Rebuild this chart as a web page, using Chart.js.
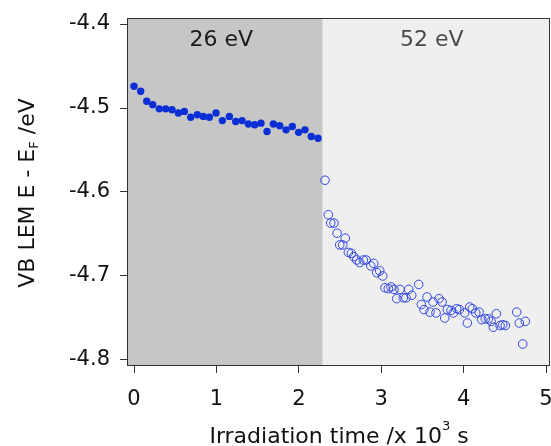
<!DOCTYPE html>
<html>
<head>
<meta charset="utf-8">
<script src="https://cdn.jsdelivr.net/npm/chart.js@4"></script>
<style>
  html, body { margin: 0; padding: 0; background: #fff; }
  #wrap { width: 551px; height: 446px; }
</style>
</head>
<body>
<div id="wrap"><canvas id="vb-chart"></canvas></div>
<script>
// 26 eV irradiation (filled points)
const time26 = [0, 0.081, 0.154, 0.227, 0.307, 0.385, 0.461, 0.538, 0.611, 0.688,
  0.768, 0.841, 0.914, 0.995, 1.072, 1.157, 1.234, 1.311, 1.388, 1.465,
  1.541, 1.614, 1.691, 1.768, 1.845, 1.921, 1.998, 2.075, 2.151, 2.233];
const energy26 = [-4.474, -4.480, -4.492, -4.496, -4.501, -4.501, -4.502, -4.506, -4.504, -4.511,
  -4.508, -4.510, -4.511, -4.506, -4.515, -4.510, -4.516, -4.515, -4.519, -4.520,
  -4.518, -4.528, -4.519, -4.521, -4.526, -4.522, -4.529, -4.526, -4.534, -4.536];

// 52 eV irradiation (open points)
const time52 = [2.318, 2.358, 2.387, 2.427, 2.464, 2.496, 2.533, 2.564, 2.601, 2.637,
  2.666, 2.703, 2.739, 2.783, 2.816, 2.873, 2.909, 2.945, 2.982, 3.018,
  3.046, 3.086, 3.119, 3.155, 3.188, 3.228, 3.268, 3.301, 3.334, 3.370,
  3.455, 3.487, 3.519, 3.556, 3.592, 3.629, 3.665, 3.701, 3.738, 3.771,
  3.802, 3.847, 3.875, 3.916, 3.948, 4.013, 4.045, 4.074, 4.106, 4.147,
  4.187, 4.220, 4.263, 4.300, 4.333, 4.360, 4.397, 4.442, 4.475, 4.506,
  4.644, 4.676, 4.717, 4.749];
const energy52 = [-4.586, -4.627, -4.637, -4.637, -4.649, -4.663, -4.663, -4.655, -4.672, -4.673,
  -4.677, -4.681, -4.684, -4.681, -4.681, -4.688, -4.685, -4.696, -4.694, -4.700,
  -4.714, -4.715, -4.713, -4.716, -4.727, -4.716, -4.726, -4.726, -4.716, -4.723,
  -4.710, -4.734, -4.740, -4.725, -4.743, -4.731, -4.744, -4.727, -4.731, -4.750,
  -4.740, -4.741, -4.744, -4.739, -4.740, -4.744, -4.756, -4.737, -4.739, -4.744,
  -4.743, -4.752, -4.751, -4.751, -4.754, -4.761, -4.745, -4.759, -4.758, -4.759,
  -4.743, -4.756, -4.781, -4.754];

const xTicks = [0, 1, 2, 3, 4, 5];
const yTicks = [-4.8, -4.7, -4.6, -4.5, -4.4];
const regionEdges = [-0.073, 2.29, 5.036];
const regionLabels = ["26 eV", "52 eV"];

const FONT = "'DejaVu Sans', sans-serif";

function toPoints(xs, ys) {
  return xs.map((x, i) => ({ x: x, y: ys[i] }));
}

// draw text made of runs, some of them sub/superscript, centred on cx
function drawRuns(ctx, runs, cx, baseline, size) {
  const small = Math.round(size * 0.6);
  let total = 0;
  runs.forEach((r) => {
    ctx.font = (r.sub || r.sup ? small : size) + "px " + FONT;
    r.w = ctx.measureText(r.t).width;
    total += r.w;
  });
  let x = cx - total / 2;
  runs.forEach((r) => {
    ctx.font = (r.sub || r.sup ? small : size) + "px " + FONT;
    let y = baseline;
    if (r.sub) y += 4;
    if (r.sup) y -= 13;
    ctx.fillText(r.t, x, y);
    x += r.w;
  });
}

const decorPlugin = {
  id: "decor",
  beforeDraw(chart) {
    const { ctx, chartArea: a, scales } = chart;
    const fills = ["#c6c6c6", "#efefef"];
    ctx.save();
    for (let i = 0; i < regionLabels.length; i++) {
      const x0 = Math.max(a.left, scales.x.getPixelForValue(regionEdges[i]));
      const x1 = Math.min(a.right, scales.x.getPixelForValue(regionEdges[i + 1]));
      ctx.fillStyle = fills[i];
      ctx.fillRect(x0, a.top, x1 - x0, a.bottom - a.top);
    }
    ctx.font = "22px " + FONT;
    ctx.textAlign = "center";
    ctx.textBaseline = "middle";
    const colors = ["#1a1a1a", "#4a4a4a"];
    for (let i = 0; i < regionLabels.length; i++) {
      const mid = (regionEdges[i] + regionEdges[i + 1]) / 2;
      ctx.fillStyle = colors[i];
      ctx.fillText(regionLabels[i], scales.x.getPixelForValue(mid) - 4, a.top + 21);
    }
    ctx.restore();
  },
  afterDraw(chart) {
    const { ctx, chartArea: a } = chart;
    ctx.save();
    ctx.strokeStyle = "#333";
    ctx.lineWidth = 1;
    ctx.strokeRect(a.left - 0.5, a.top - 0.5, a.right - a.left + 1, a.bottom - a.top + 1);

    ctx.fillStyle = "#111";
    ctx.textAlign = "left";
    ctx.textBaseline = "alphabetic";
    drawRuns(ctx, [
      { t: "Irradiation time /x 10" }, { t: "3", sup: true }, { t: " s" },
    ], 339, 443, 22);

    ctx.translate(34, (a.top + a.bottom) / 2 + 1);
    ctx.rotate(-Math.PI / 2);
    drawRuns(ctx, [
      { t: "VB LEM E - E" }, { t: "F", sub: true }, { t: " /eV" },
    ], 0, 0, 22);
    ctx.restore();
  },
};

function noPad(s) {
  s.paddingLeft = 0;
  s.paddingRight = 0;
  s.paddingTop = 0;
  s.paddingBottom = 0;
}

const ctx = document.getElementById("vb-chart").getContext("2d");
const chart = new Chart(ctx, {
  type: "scatter",
  data: {
    datasets: [
      {
        label: "26 eV",
        data: toPoints(time26, energy26),
        pointRadius: 3.7,
        pointBackgroundColor: "#0b2fd4",
        pointBorderColor: "#0b2fd4",
        pointBorderWidth: 0,
      },
      {
        label: "52 eV",
        data: toPoints(time52, energy52),
        pointRadius: 4.3,
        pointBackgroundColor: "rgba(0,0,0,0)",
        pointBorderColor: "#3448e4",
        pointBorderWidth: 1,
      },
    ],
  },
  options: {
    responsive: true,
    maintainAspectRatio: false,
    animation: false,
    layout: { autoPadding: false, padding: { left: 0, top: 19, right: 2, bottom: 0 } },
    plugins: {
      legend: { display: false },
      tooltip: { enabled: false },
    },
    scales: {
      x: {
        type: "linear",
        min: regionEdges[0],
        max: regionEdges[2],
        afterBuildTicks: (s) => { s.ticks = xTicks.map((v) => ({ value: v })); },
        afterFit: (s) => { s.height = 81; noPad(s); },
        grid: { drawOnChartArea: false, tickLength: 8, color: "#333", lineWidth: 1 },
        border: { display: false },
        ticks: {
          color: "#111",
          font: { family: FONT, size: 21 },
          padding: 14,
          maxRotation: 0,
          callback: (v) => String(v),
        },
      },
      y: {
        type: "linear",
        min: -4.806,
        max: -4.394,
        afterBuildTicks: (s) => { s.ticks = yTicks.map((v) => ({ value: v })); },
        afterFit: (s) => { s.width = 128; noPad(s); },
        grid: { drawOnChartArea: false, tickLength: 8, color: "#333", lineWidth: 1 },
        border: { display: false },
        ticks: {
          color: "#111",
          font: { family: FONT, size: 21 },
          padding: 10,
          callback: (v) => v.toFixed(1),
        },
      },
    },
  },
  plugins: [decorPlugin],
});
</script>
</body>
</html>
